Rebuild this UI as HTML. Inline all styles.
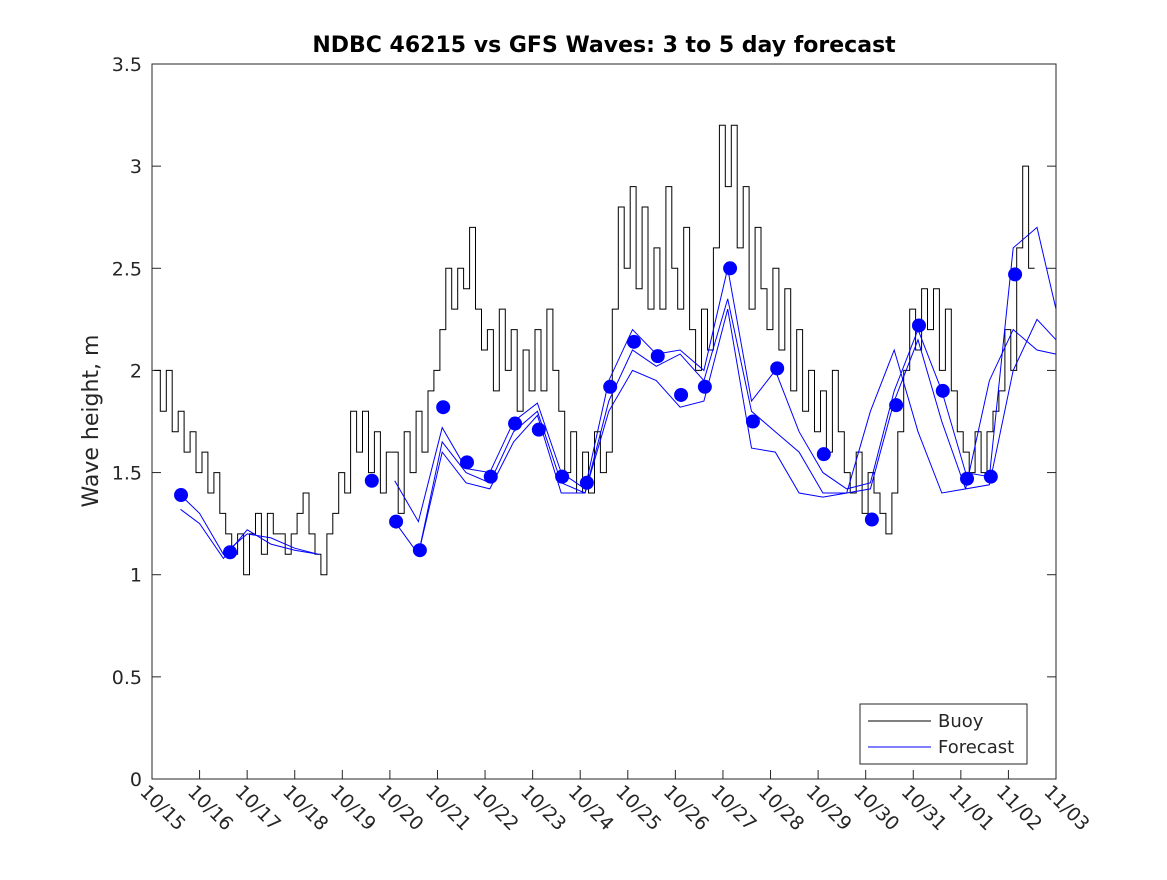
<!DOCTYPE html>
<html><head><meta charset="utf-8"><style>
body{margin:0;background:#fff}
svg text{font-family:"DejaVu Sans","Liberation Sans",sans-serif;fill:#262626}
</style></head><body>
<svg id="chart" width="1167" height="875" xmlns="http://www.w3.org/2000/svg">
<rect x="0" y="0" width="1167" height="875" fill="#fff"/>
<text x="604" y="52" text-anchor="middle" font-size="22" font-weight="bold" style="fill:#000">NDBC 46215 vs GFS Waves: 3 to 5 day forecast</text>
<text transform="translate(98,421) rotate(-90)" text-anchor="middle" font-size="22">Wave height, m</text>
<g id="plot"></g>
</svg>
<script>
const dayLabels=["10/15","10/16","10/17","10/18","10/19","10/20","10/21","10/22","10/23","10/24","10/25","10/26","10/27","10/28","10/29","10/30","10/31","11/01","11/02","11/03"];
const yTicks=[0,0.5,1,1.5,2,2.5,3,3.5];
const buoyStart=0.05, buoyStep=0.125;
const buoy=[2.0,1.8,2.0,1.7,1.8,1.6,1.7,1.5,
1.6,1.4,1.5,1.3,1.2,1.1,1.2,1.0,
1.2,1.3,1.1,1.3,1.2,1.2,1.1,1.2,
1.3,1.4,1.2,1.1,1.0,1.2,1.3,1.5,
1.4,1.8,1.6,1.8,1.5,1.7,1.4,1.6,
1.6,1.3,1.7,1.5,1.8,1.6,1.9,2.0,
2.2,2.5,2.3,2.5,2.4,2.7,2.3,2.1,
2.2,1.9,2.3,2.0,2.2,1.8,2.1,1.9,
2.2,1.9,2.3,2.0,1.8,1.5,1.7,1.4,
1.6,1.4,1.7,1.5,1.6,2.3,2.8,2.5,
2.9,2.4,2.8,2.3,2.6,2.3,2.9,2.5,
2.3,2.7,2.2,2.0,2.3,2.1,2.6,3.2,
2.9,3.2,2.6,2.9,2.3,2.7,2.4,2.2,
2.5,2.1,2.4,1.9,2.2,1.8,2.0,1.7,
1.9,1.6,2.0,1.7,1.5,1.4,1.6,1.3,
1.5,1.4,1.3,1.2,1.4,1.7,2.0,2.3,
2.1,2.4,2.2,2.4,2.0,2.3,1.9,1.7,
1.6,1.5,1.7,1.5,1.7,1.8,1.9,2.2,
2.0,2.6,3.0,2.5];
const fcTimes=[0.6,1.0,1.5,2.0,2.5,3.0,3.5,4.6,5.1,5.6,6.1,6.6,7.1,7.6,8.1,8.6,9.1,9.6,10.1,10.6,11.1,11.6,12.1,12.6,13.1,13.6,14.1,14.6,15.1,15.6,16.1,16.6,17.1,17.6,18.1,18.6,19.0];
const fcRunA=[1.39,1.30,1.10,1.20,1.18,1.13,1.10,null,1.46,1.26,1.72,1.52,1.50,1.75,1.84,1.50,1.42,1.95,2.20,2.08,2.10,2.00,2.50,1.85,2.00,1.70,1.50,1.42,1.45,1.90,2.20,1.90,1.50,1.48,2.60,2.70,2.30];
const fcRunB=[1.32,1.25,1.08,1.22,1.15,1.12,1.10,null,1.26,1.10,1.65,1.50,1.45,1.70,1.80,1.45,1.40,1.85,2.10,2.02,2.08,1.95,2.35,1.80,1.70,1.60,1.40,1.40,1.42,1.85,2.15,1.75,1.42,1.44,2.00,2.25,2.15];
const fcRunC=[null,null,null,null,null,null,null,null,null,1.10,1.60,1.45,1.42,1.65,1.78,1.40,1.40,1.80,2.00,1.95,1.82,1.85,2.30,1.62,1.60,1.40,1.38,1.40,1.80,2.10,1.70,1.40,1.42,1.95,2.20,2.10,2.08];
const dotTimes=[0.61,1.64,4.62,5.13,5.63,6.12,6.62,7.12,7.63,8.13,8.62,9.14,9.63,10.13,10.63,11.12,11.62,12.15,12.63,13.14,14.12,15.13,15.64,16.12,16.62,17.13,17.63,18.14];
const dotValues=[1.39,1.11,1.46,1.26,1.12,1.82,1.55,1.48,1.74,1.71,1.48,1.45,1.92,2.14,2.07,1.88,1.92,2.50,1.75,2.01,1.59,1.27,1.83,2.22,1.90,1.47,1.48,2.47];

const L=152,R=1056,T=64,B=779;
const xs=d=>L+(R-L)*d/19;
const ys=v=>B-(B-T)*v/3.5;
const NS="http://www.w3.org/2000/svg";
const g=document.getElementById('plot');
function mk(tag,attrs){const e=document.createElementNS(NS,tag);for(const k in attrs)e.setAttribute(k,attrs[k]);g.appendChild(e);return e;}

const frame=mk('rect',{x:L,y:T,width:R-L,height:B-T,fill:'none',stroke:'#262626','stroke-width':1});



yTicks.forEach(v=>{
  const y=ys(v);
  const t1=mk('line',{x1:L,x2:L+9,y1:y,y2:y,stroke:'#262626'});
  
  
  const t2=mk('line',{x1:R,x2:R-9,y1:y,y2:y,stroke:'#262626'});
  
  
  const tx=mk('text',{x:L-10,y:y+7,'text-anchor':'end','font-size':19});
  tx.textContent=String(v);
  
  
});
dayLabels.forEach((lab,i)=>{
  const x=xs(i);
  const t=mk('line',{x1:x,x2:x,y1:B,y2:B-9,stroke:'#262626'});
  
  
  const tx=mk('text',{transform:`translate(${x-13},${B+14}) rotate(45)`,'font-size':19});
  tx.textContent=lab;
  
  
});

// buoy stair line
let bp=[];
buoy.forEach((v,i)=>{
  const x0=xs(buoyStart+i*buoyStep), x1=xs(buoyStart+(i+1)*buoyStep), y=ys(v);
  bp.push(x0.toFixed(1)+','+y.toFixed(1));
  bp.push(x1.toFixed(1)+','+y.toFixed(1));
});
const bl=mk('polyline',{points:bp.join(' '),fill:'none',stroke:'#000','stroke-width':1});



function drawRun(arr,name){
  let seg=[];
  const flush=()=>{if(seg.length>1){const p=mk('polyline',{points:seg.join(' '),fill:'none',stroke:'#0000ff','stroke-width':1});
    
    }seg=[];};
  arr.forEach((v,i)=>{if(v==null){flush();}else seg.push(xs(fcTimes[i]).toFixed(1)+','+ys(v).toFixed(1));});
  flush();
}
drawRun(fcRunA,'forecast-run-a');
drawRun(fcRunB,'forecast-run-b');
drawRun(fcRunC,'forecast-run-c');

dotTimes.forEach((d,i)=>{
  const c=mk('circle',{cx:xs(d),cy:ys(dotValues[i]),r:7,fill:'#0000ff'});
  
  
});

// legend
const lb=mk('rect',{x:860,y:704,width:167,height:60,fill:'#fff',stroke:'#262626'});


const l1=mk('line',{x1:868,x2:931,y1:721,y2:721,stroke:'#000'});


const t1=mk('text',{x:938,y:727,'font-size':18});
t1.textContent='Buoy';


const l2=mk('line',{x1:868,x2:931,y1:747,y2:747,stroke:'#0000ff'});


const t2=mk('text',{x:938,y:753,'font-size':18});
t2.textContent='Forecast';


</script>
</body></html>
